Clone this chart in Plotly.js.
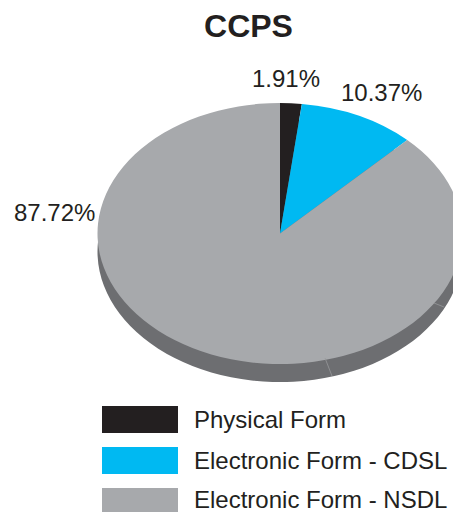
<!DOCTYPE html>
<html>
<head>
<meta charset="utf-8">
<script src="https://cdn.plot.ly/plotly-3.0.1.min.js"></script>
<style>
html,body{margin:0;padding:0;background:#fff;overflow:hidden}
#chart{width:453px;height:512px}
</style>
</head>
<body>
<div id="chart"></div>
<script>
var categories = ['Physical Form', 'Electronic Form - CDSL', 'Electronic Form - NSDL'];
var shares = [1.91, 10.37, 87.72];
var sliceColors = ['#231f20', '#00b9f2', '#a7a9ac'];
var wallColor = '#6d6e71';
var chartTitle = 'CCPS';

var W = 453, H = 512;
var font = 'Liberation Sans, Arial, sans-serif';
var ink = '#231f20';
function fx(p){return p / W;}
function fy(p){return 1 - p / H;}

var pieBase = {
  type: 'pie', labels: categories, values: shares, sort: false,
  direction: 'clockwise', rotation: 0, textinfo: 'none', hoverinfo: 'skip',
  showlegend: false, domain: {x: [0, 1], y: [0, 1]}
};
var wall = Object.assign({}, pieBase, {
  marker: {colors: [wallColor, wallColor, wallColor], line: {width: 0}}
});
var top_ = Object.assign({}, pieBase, {
  marker: {colors: sliceColors, line: {width: 0}}
});

var labelPos = [[286, 78], [381, 92], [54, 212]];
var annotations = shares.map(function (v, i) {
  return {
    text: v.toFixed(2) + '%', showarrow: false, xref: 'paper', yref: 'paper',
    x: fx(labelPos[i][0]), y: fy(labelPos[i][1]), xanchor: 'center', yanchor: 'middle',
    font: {family: font, size: 24, color: ink}
  };
});
var swatchTop = [406, 447, 488];
var swatchBottom = [433, 474, 512];
var shapes = categories.map(function (c, i) {
  return {
    type: 'rect', xref: 'paper', yref: 'paper', layer: 'above',
    x0: fx(102), x1: fx(178), y0: fy(swatchBottom[i]), y1: fy(swatchTop[i]),
    fillcolor: sliceColors[i], line: {width: 0}
  };
});
var textY = [419, 460, 499];
categories.forEach(function (c, i) {
  annotations.push({
    text: c, showarrow: false, xref: 'paper', yref: 'paper',
    x: fx(192), y: fy(textY[i]), xanchor: 'left', yanchor: 'middle',
    font: {family: font, size: 24, color: ink}
  });
});
[[325, 358, 332, 376], [434, 303, 444, 307]].forEach(function (s) {
  shapes.push({
    type: 'line', xref: 'paper', yref: 'paper', layer: 'above',
    x0: fx(s[0]), y0: fy(s[1]), x1: fx(s[2]), y1: fy(s[3]),
    line: {color: '#97989b', width: 0.8}
  });
});

var layout = {
  width: W, height: H, margin: {l: 0, r: 0, t: 0, b: 0},
  paper_bgcolor: '#fff', showlegend: false,
  title: {text: '<b>' + chartTitle + '</b>', x: fx(248.5), y: fy(25.5), xanchor: 'center', yanchor: 'middle',
          font: {family: font, size: 32, color: ink}},
  annotations: annotations, shapes: shapes
};

Plotly.newPlot('chart', [wall, top_], layout, {staticPlot: true, displayModeBar: false}).then(function () {
  // Plotly pies are circular: tilt both discs into the reference's flattened ellipse.
  var r0 = Math.min(W, H) / 2, cx0 = W / 2, cy0 = H / 2;
  var rx = 182.5, ry = 130.5, cx = 280, cy = 233.5, drop = 18;
  var traces = document.querySelectorAll('.pielayer .trace');
  traces.forEach(function (t, i) {
    var dy = i === 0 ? drop : 0;
    t.setAttribute('transform',
      'translate(' + cx + ',' + (cy + dy) + ') scale(' + (rx / r0) + ',' + (ry / r0) + ') translate(' + (-cx0) + ',' + (-cy0) + ')');
  });
});
</script>
</body>
</html>
